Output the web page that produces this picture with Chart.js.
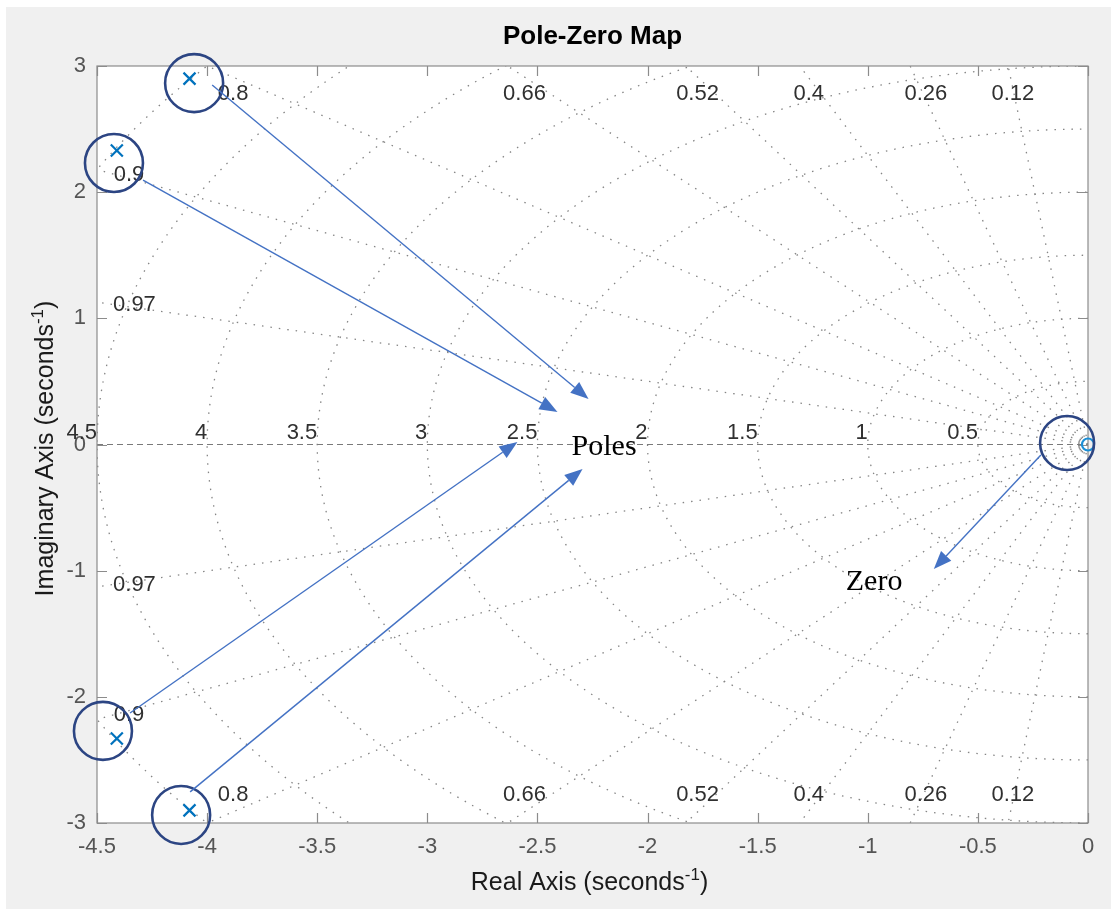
<!DOCTYPE html>
<html>
<head>
<meta charset="utf-8">
<title>Pole-Zero Map</title>
<script src="https://cdn.jsdelivr.net/npm/chart.js"></script>
<style>
  body { margin: 0; background: #ffffff; }
  #wrap { width: 1111px; height: 909px; }
</style>
</head>
<body>
<div id="wrap"><canvas id="myChart" width="1111" height="909"></canvas></div>
<script type="text/javascript">
// poles and zero (seconds^-1)
var poleRe = [-4.08, -4.41, -4.41, -4.08];
var poleIm = [2.90, 2.33, -2.33, -2.90];
var zeroRe = [0];
var zeroIm = [0];

// pzmap grid: damping ratios and natural frequencies
var dampingValues = [0.12, 0.26, 0.4, 0.52, 0.66, 0.8, 0.9, 0.97];
var freqValues = [0.5, 1, 1.5, 2, 2.5, 3, 3.5, 4, 4.5, 5];
var freqLabels = ['0.5', '1', '1.5', '2', '2.5', '3', '3.5', '4', '4.5'];

// where the damping labels sit (data units)
var dampLabelText = ['0.8', '0.66', '0.52', '0.4', '0.26', '0.12'];
var dampLabelRe = [-3.882, -2.559, -1.773, -1.268, -0.736, -0.341];
var dampLabelIm = 2.78;
var sideLabelText = ['0.9', '0.97'];
var sideLabelRe = [-4.355, -4.33];
var sideLabelIm = [2.14, 1.11];

// axis ranges / ticks
var xMin = -4.5, xMax = 0, xStep = 0.5;
var yMin = -3, yMax = 3, yStep = 1;

// hand-drawn annotations (data units)
var circleRe = [-4.059, -4.423, -4.473, -4.118, -0.095];
var circleIm = [2.864, 2.231, -2.270, -2.936, 0.012];
var arrowFrom = [[-3.977, 2.849], [-4.291, 2.096], [-4.35, -2.128], [-4.077, -2.753], [-0.214, -0.083]];
var arrowTo = [[-2.268, 0.361], [-2.409, 0.258], [-2.591, 0.02], [-2.295, -0.194], [-0.70, -0.987]];
var noteText = ['Poles', 'Zero'];
var notePos = [[-2.345, -0.083], [-1.10, -1.153]];

var sans = '"Liberation Sans", Arial, Helvetica, sans-serif';
var serif = '"Liberation Serif", "Times New Roman", serif';

function pts(re, im) {
  return re.map(function (v, i) { return { x: v, y: im[i] }; });
}

var bgPlugin = {
  id: 'bg',
  beforeDraw: function (chart) {
    var ctx = chart.ctx, a = chart.chartArea;
    ctx.save();
    ctx.fillStyle = '#ffffff';
    ctx.fillRect(0, 0, chart.width, chart.height);
    ctx.fillStyle = '#f0f0f0';
    ctx.fillRect(6, 7, chart.width - 6, chart.height - 7);
    ctx.fillStyle = '#ffffff';
    ctx.fillRect(a.left, a.top, a.right - a.left, a.bottom - a.top);
    ctx.restore();
  }
};

var gridPlugin = {
  id: 'pzgrid',
  beforeDatasetsDraw: function (chart) {
    var ctx = chart.ctx, a = chart.chartArea;
    var x = chart.scales.x, y = chart.scales.y;
    var x0 = x.getPixelForValue(0), y0 = y.getPixelForValue(0);
    var kx = x0 - x.getPixelForValue(-1);
    var ky = y0 - y.getPixelForValue(1);

    ctx.save();
    ctx.beginPath();
    ctx.rect(a.left, a.top, a.right - a.left, a.bottom - a.top);
    ctx.clip();
    ctx.strokeStyle = '#858585';
    ctx.lineWidth = 1.3;
    ctx.setLineDash([1.5, 7]);
    // natural frequency circles
    freqValues.forEach(function (w) {
      ctx.beginPath();
      ctx.ellipse(x0, y0, w * kx, w * ky, 0, Math.PI / 2, Math.PI * 1.5);
      ctx.stroke();
    });
    // constant damping lines
    dampingValues.forEach(function (z) {
      var s = Math.sqrt(1 - z * z);
      [1, -1].forEach(function (sg) {
        ctx.beginPath();
        ctx.moveTo(x0, y0);
        ctx.lineTo(x.getPixelForValue(-z * 10), y.getPixelForValue(sg * s * 10));
        ctx.stroke();
      });
    });
    // real axis
    ctx.strokeStyle = '#7a7a7a';
    ctx.lineWidth = 1;
    ctx.setLineDash([6, 4]);
    ctx.beginPath();
    ctx.moveTo(a.left, y0);
    ctx.lineTo(a.right, y0);
    ctx.stroke();
    ctx.restore();

    // grid labels
    ctx.save();
    ctx.fillStyle = '#303030';
    ctx.font = '22px ' + sans;
    ctx.textAlign = 'right';
    ctx.textBaseline = 'alphabetic';
    freqLabels.forEach(function (t) {
      ctx.fillText(t, x.getPixelForValue(-parseFloat(t)), y0 - 6);
    });
    ctx.textAlign = 'center';
    ctx.textBaseline = 'middle';
    dampLabelText.forEach(function (t, i) {
      var px = x.getPixelForValue(dampLabelRe[i]);
      ctx.fillText(t, px, y.getPixelForValue(dampLabelIm));
      ctx.fillText(t, px, y.getPixelForValue(-dampLabelIm));
    });
    sideLabelText.forEach(function (t, i) {
      var px = x.getPixelForValue(sideLabelRe[i]);
      ctx.fillText(t, px, y.getPixelForValue(sideLabelIm[i]));
      ctx.fillText(t, px, y.getPixelForValue(-sideLabelIm[i]));
    });

    // box and inward ticks
    ctx.strokeStyle = '#8c8c8c';
    ctx.lineWidth = 1.2;
    ctx.setLineDash([]);
    ctx.strokeRect(a.left, a.top, a.right - a.left, a.bottom - a.top);
    ctx.beginPath();
    x.ticks.forEach(function (t) {
      var px = Math.round(x.getPixelForValue(t.value)) + 0.5;
      ctx.moveTo(px, a.top); ctx.lineTo(px, a.top + 10);
      ctx.moveTo(px, a.bottom); ctx.lineTo(px, a.bottom - 10);
    });
    y.ticks.forEach(function (t) {
      var py = Math.round(y.getPixelForValue(t.value)) + 0.5;
      ctx.moveTo(a.left, py); ctx.lineTo(a.left + 10, py);
      ctx.moveTo(a.right, py); ctx.lineTo(a.right - 10, py);
    });
    ctx.stroke();
    ctx.restore();
  }
};

function drawArrow(ctx, x1, y1, x2, y2) {
  var ang = Math.atan2(y2 - y1, x2 - x1);
  var hl = 18, hw = 7;
  var bx = x2 - hl * Math.cos(ang), by = y2 - hl * Math.sin(ang);
  ctx.beginPath();
  ctx.moveTo(x1, y1);
  ctx.lineTo(bx, by);
  ctx.stroke();
  ctx.beginPath();
  ctx.moveTo(x2, y2);
  ctx.lineTo(bx + hw * Math.sin(ang), by - hw * Math.cos(ang));
  ctx.lineTo(bx - hw * Math.sin(ang), by + hw * Math.cos(ang));
  ctx.closePath();
  ctx.fill();
}

function drawSup(ctx, main, sup, tail, size) {
  // draws "main" + superscript + "tail" centred at 0,0 (baseline)
  ctx.font = size + 'px ' + sans;
  var w1 = ctx.measureText(main).width;
  var w3 = ctx.measureText(tail).width;
  ctx.font = Math.round(size * 0.68) + 'px ' + sans;
  var w2 = ctx.measureText(sup).width;
  var left = -(w1 + w2 + w3) / 2;
  ctx.textAlign = 'left';
  ctx.textBaseline = 'alphabetic';
  ctx.font = size + 'px ' + sans;
  ctx.fillText(main, left, 0);
  ctx.fillText(tail, left + w1 + w2, 0);
  ctx.font = Math.round(size * 0.68) + 'px ' + sans;
  ctx.fillText(sup, left + w1, -size * 0.42);
}

var notePlugin = {
  id: 'notes',
  afterDatasetsDraw: function (chart) {
    var ctx = chart.ctx, a = chart.chartArea;
    var x = chart.scales.x, y = chart.scales.y;
    ctx.save();
    // circles round the poles and the zero
    ctx.strokeStyle = '#2c4583';
    ctx.lineWidth = 2.6;
    circleRe.forEach(function (re, i) {
      var r = i === 4 ? 27 : 29;
      ctx.beginPath();
      ctx.arc(x.getPixelForValue(re), y.getPixelForValue(circleIm[i]), r, 0, Math.PI * 2);
      ctx.stroke();
    });
    // arrows
    ctx.strokeStyle = '#4472c4';
    ctx.fillStyle = '#4472c4';
    ctx.lineWidth = 1.4;
    arrowFrom.forEach(function (f, i) {
      drawArrow(ctx, x.getPixelForValue(f[0]), y.getPixelForValue(f[1]),
        x.getPixelForValue(arrowTo[i][0]), y.getPixelForValue(arrowTo[i][1]));
    });
    // text notes
    ctx.fillStyle = '#000000';
    ctx.font = '30px ' + serif;
    ctx.textAlign = 'left';
    ctx.textBaseline = 'alphabetic';
    noteText.forEach(function (t, i) {
      ctx.fillText(t, x.getPixelForValue(notePos[i][0]), y.getPixelForValue(notePos[i][1]));
    });
    ctx.restore();
  },
  afterDraw: function (chart) {
    var ctx = chart.ctx, a = chart.chartArea;
    var cx = (a.left + a.right) / 2, cy = (a.top + a.bottom) / 2;
    ctx.save();
    ctx.fillStyle = '#000000';
    ctx.font = 'bold 26px ' + sans;
    ctx.textAlign = 'center';
    ctx.textBaseline = 'alphabetic';
    ctx.fillText('Pole-Zero Map', cx, 44);
    ctx.fillStyle = '#1a1a1a';
    ctx.save();
    ctx.translate(cx - 3, 890);
    drawSup(ctx, 'Real Axis (seconds', '-1', ')', 25);
    ctx.restore();
    ctx.save();
    ctx.translate(53, cy + 4);
    ctx.rotate(-Math.PI / 2);
    drawSup(ctx, 'Imaginary Axis (seconds', '-1', ')', 25);
    ctx.restore();
    ctx.restore();
  }
};

var ctx = document.getElementById('myChart').getContext('2d');
new Chart(ctx, {
  type: 'scatter',
  data: {
    datasets: [{
      label: 'Poles',
      data: pts(poleRe, poleIm),
      pointStyle: 'crossRot',
      pointRadius: 8.5,
      pointBorderWidth: 2.2,
      borderColor: '#0072bd',
      backgroundColor: '#0072bd',
      clip: false
    }, {
      label: 'Zero',
      data: pts(zeroRe, zeroIm),
      pointStyle: 'circle',
      pointRadius: 6,
      pointBorderWidth: 2.2,
      borderColor: '#1b8fd6',
      backgroundColor: 'rgba(0,0,0,0)',
      clip: false
    }]
  },
  options: {
    responsive: false,
    animation: false,
    devicePixelRatio: 1,
    layout: { padding: { top: 66, right: 23, left: 0, bottom: 0 } },
    plugins: {
      legend: { display: false },
      tooltip: { enabled: false },
      title: { display: false }
    },
    scales: {
      x: {
        type: 'linear',
        min: xMin,
        max: xMax,
        grid: { display: false, drawTicks: false },
        border: { display: false },
        ticks: {
          stepSize: xStep,
          color: '#555555',
          font: { family: sans, size: 22 },
          padding: 11,
          maxRotation: 0,
          callback: function (v) { return String(Math.round(v * 10) / 10); }
        },
        afterFit: function (s) { s.height = 86; }
      },
      y: {
        type: 'linear',
        min: yMin,
        max: yMax,
        grid: { display: false, drawTicks: false },
        border: { display: false },
        ticks: {
          stepSize: yStep,
          color: '#555555',
          font: { family: sans, size: 22 },
          padding: 11,
          callback: function (v) { return String(v); }
        },
        afterFit: function (s) { s.width = 97; }
      }
    }
  },
  plugins: [bgPlugin, gridPlugin, notePlugin]
});
</script>
</body>
</html>
